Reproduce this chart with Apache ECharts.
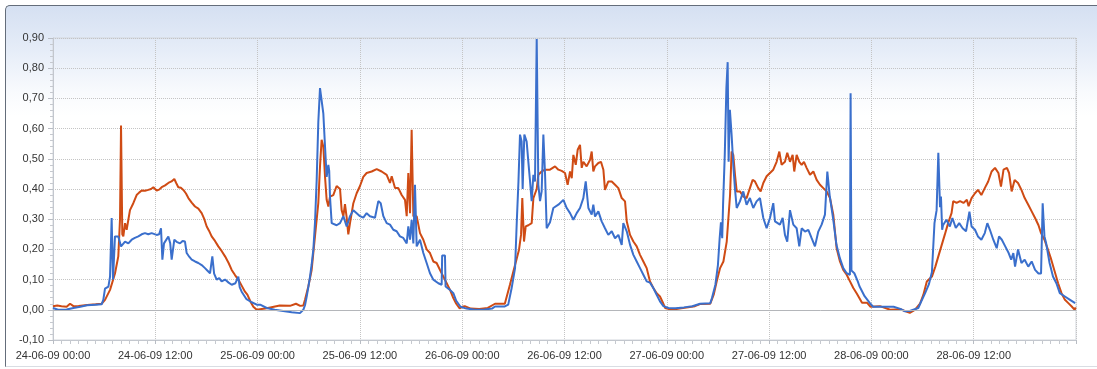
<!DOCTYPE html>
<html>
<head>
<meta charset="utf-8">
<title>Meetwaarden 24-06-09 t/m 28-06-09</title>
<script src="https://cdn.jsdelivr.net/npm/echarts@6/dist/echarts.min.js"></script>
<style>
  html, body { margin: 0; padding: 0; background: #ffffff; overflow: hidden; }
  #card {
    position: absolute; left: 5px; top: 5px; width: 1200px; height: 360px;
    border-top: 1px solid #646d7a; border-left: 1px solid #646d7a;
    border-bottom: 1px solid #d9dde3;
    border-top-left-radius: 5px;
    background: linear-gradient(to bottom, #d5e0f2 0px, #e6edf8 45px, #f8fafd 85px, #ffffff 110px);
  }
  #chart { position: absolute; left: 0; top: 0; width: 1097px; height: 369px; }
</style>
</head>
<body>
<div id="card"></div>
<div id="chart"></div>
<script>
// Date part of the x-axis tick labels, one per day
const dayLabels = ['24-06-09', '25-06-09', '26-06-09', '27-06-09', '28-06-09', '29-06-09'];

// Measured values per day: [hour of day, value]
const blue24 = [[0,0.006],[0.6,0.0],[1.6,0.001],[2.4,0.006],[3.2,0.01],[4.0,0.015],[5.0,0.017],[5.7,0.018],[5.9,0.033],[6.1,0.07],[6.5,0.077],[6.69,0.11],[6.88,0.304],[7.04,0.1],[7.27,0.243],[7.66,0.243],[7.98,0.21],[8.45,0.226],[8.84,0.22],[9.23,0.232],[9.6,0.238],[10.01,0.243],[10.4,0.25],[10.79,0.254],[11.18,0.25],[11.57,0.254],[12.16,0.248],[12.45,0.25],[12.67,0.27],[12.83,0.166],[13.02,0.22],[13.25,0.215],[13.53,0.243],[13.75,0.22],[13.92,0.166],[14.23,0.232],[14.5,0.225],[14.9,0.22],[15.2,0.228],[15.48,0.226],[15.68,0.188],[16.0,0.175],[16.27,0.166],[16.66,0.16],[17.05,0.155],[17.44,0.148],[17.83,0.138],[18.1,0.13],[18.42,0.121],[18.69,0.177],[18.9,0.12],[19.2,0.1],[19.5,0.105],[19.78,0.094],[20.18,0.1],[20.6,0.09],[20.96,0.083],[21.4,0.088],[21.74,0.11],[21.9,0.075],[22.13,0.06],[22.7,0.035],[23.3,0.025],[23.9,0.017]];
const blue25 = [[0.3,0.017],[1.07,0.006],[2.0,0.0],[3.0,-0.004],[4.0,-0.008],[4.97,-0.011],[5.36,0.0],[5.56,0.015],[5.76,0.044],[5.95,0.075],[6.15,0.11],[6.34,0.15],[6.54,0.2],[6.73,0.287],[6.93,0.43],[7.12,0.62],[7.32,0.734],[7.51,0.73],[7.71,0.65],[7.91,0.54],[8.1,0.44],[8.3,0.48],[8.4,0.46],[8.49,0.375],[8.69,0.287],[8.88,0.293],[9.27,0.28],[9.67,0.287],[10.06,0.31],[10.45,0.276],[10.84,0.31],[11.23,0.33],[11.62,0.32],[12.01,0.31],[12.4,0.305],[12.79,0.32],[13.18,0.31],[13.77,0.305],[14.16,0.36],[14.44,0.353],[14.75,0.31],[15.14,0.287],[15.53,0.282],[15.92,0.265],[16.31,0.26],[16.7,0.243],[17.09,0.238],[17.49,0.22],[17.68,0.276],[17.88,0.232],[18.07,0.298],[18.27,0.22],[18.46,0.414],[18.66,0.21],[19.05,0.232],[19.44,0.188],[19.83,0.155],[20.22,0.121],[20.61,0.1],[21.2,0.088],[21.59,0.083],[21.65,0.18],[21.98,0.18],[22.05,0.077],[22.57,0.066],[22.96,0.055],[23.3,0.03],[23.8,0.01]];
const blue26 = [[0,0.007],[0.5,0.004],[1.5,0.0],[2.5,0.0],[3.5,0.004],[3.85,0.011],[5.0,0.011],[5.4,0.017],[5.8,0.072],[6.2,0.138],[6.4,0.29],[6.6,0.425],[6.78,0.58],[6.97,0.557],[7.09,0.4],[7.29,0.58],[7.56,0.557],[7.76,0.49],[7.96,0.425],[8.15,0.36],[8.35,0.447],[8.54,0.425],[8.74,0.897],[8.93,0.414],[9.13,0.36],[9.32,0.392],[9.52,0.58],[9.72,0.447],[9.91,0.27],[10.3,0.29],[10.69,0.337],[11.28,0.348],[11.87,0.364],[12.26,0.337],[12.65,0.32],[13.04,0.298],[13.43,0.32],[13.82,0.337],[14.21,0.37],[14.49,0.425],[14.8,0.337],[15.19,0.315],[15.38,0.348],[15.58,0.309],[15.97,0.326],[16.36,0.293],[16.75,0.27],[17.14,0.248],[17.54,0.26],[17.93,0.237],[18.32,0.248],[18.71,0.215],[18.9,0.287],[19.3,0.26],[19.69,0.215],[20.08,0.182],[20.47,0.16],[20.86,0.138],[21.25,0.116],[21.64,0.094],[22.03,0.09],[22.42,0.072],[22.81,0.05],[23.2,0.028],[23.6,0.012]];
const blue27 = [[0.2,0.006],[1,0.005],[2,0.008],[3,0.012],[3.9,0.02],[5.1,0.022],[5.3,0.039],[5.7,0.083],[6.0,0.149],[6.2,0.237],[6.35,0.29],[6.5,0.237],[6.6,0.348],[6.8,0.513],[6.99,0.734],[7.14,0.82],[7.25,0.49],[7.4,0.662],[7.6,0.58],[7.8,0.48],[7.99,0.403],[8.2,0.337],[8.58,0.359],[8.97,0.392],[9.36,0.348],[9.75,0.37],[10.14,0.337],[10.53,0.359],[10.93,0.37],[11.12,0.337],[11.32,0.304],[11.71,0.27],[12.1,0.304],[12.49,0.353],[12.69,0.293],[12.88,0.298],[13.27,0.282],[13.59,0.304],[13.86,0.248],[14.13,0.226],[14.45,0.33],[14.84,0.282],[15.23,0.27],[15.54,0.21],[15.82,0.27],[16.21,0.259],[16.6,0.265],[16.99,0.237],[17.38,0.21],[17.77,0.259],[18.16,0.282],[18.55,0.315],[18.83,0.458],[19.1,0.38],[19.5,0.304],[19.9,0.215],[20.3,0.171],[20.7,0.138],[21.1,0.121],[21.48,0.116],[21.56,0.717],[21.66,0.13],[22.0,0.121],[22.4,0.094],[22.6,0.078],[23.2,0.045],[23.8,0.023]];
const blue28 = [[0.2,0.01],[1.4,0.01],[2.6,0.01],[3.4,0.003],[3.94,-0.005],[4.5,-0.004],[5.5,0.006],[5.8,0.025],[6.3,0.055],[6.75,0.085],[7.1,0.125],[7.4,0.287],[7.65,0.33],[7.85,0.52],[8.05,0.34],[8.16,0.375],[8.3,0.265],[8.4,0.28],[8.8,0.298],[9.2,0.276],[9.5,0.304],[9.9,0.271],[10.3,0.287],[10.7,0.27],[11.1,0.26],[11.5,0.325],[11.75,0.276],[12.15,0.265],[12.5,0.243],[12.9,0.232],[13.3,0.254],[13.6,0.287],[13.9,0.265],[14.3,0.232],[14.7,0.204],[14.97,0.243],[15.3,0.232],[15.7,0.21],[16.1,0.188],[16.4,0.166],[16.65,0.188],[16.85,0.143],[17.2,0.2],[17.6,0.155],[17.98,0.166],[18.4,0.143],[18.8,0.16],[19.2,0.132],[19.6,0.12],[19.9,0.12],[20.09,0.353],[20.3,0.243],[20.5,0.22],[20.9,0.155],[21.3,0.11],[21.7,0.088],[22.1,0.055],[22.7,0.044],[23.3,0.033],[23.9,0.022]];

const orange24 = [[0,0.012],[0.5,0.014],[1.0,0.012],[1.6,0.01],[2.0,0.02],[2.4,0.012],[3.0,0.013],[4.0,0.016],[5.0,0.018],[5.7,0.02],[6.1,0.033],[6.69,0.066],[7.27,0.12],[7.66,0.177],[7.86,0.3],[7.98,0.61],[8.13,0.25],[8.25,0.243],[8.45,0.287],[8.64,0.265],[9.03,0.33],[9.42,0.353],[9.81,0.38],[10.1,0.388],[10.4,0.395],[10.79,0.394],[11.18,0.397],[11.5,0.4],[11.77,0.406],[12.16,0.395],[12.45,0.398],[12.75,0.406],[13.15,0.412],[13.53,0.42],[13.9,0.425],[14.23,0.433],[14.45,0.42],[14.7,0.406],[15.0,0.404],[15.29,0.397],[15.6,0.385],[15.88,0.37],[16.27,0.355],[16.66,0.342],[17.05,0.335],[17.44,0.32],[17.75,0.3],[18.03,0.276],[18.3,0.262],[18.61,0.243],[19.0,0.228],[19.39,0.21],[19.78,0.195],[20.18,0.177],[20.6,0.155],[20.96,0.132],[21.35,0.115],[21.74,0.1],[22.13,0.08],[22.52,0.06],[22.8,0.05],[23.2,0.025],[23.5,0.01],[23.9,0.0]];
const orange25 = [[0.0,0.0],[1.07,0.005],[2.6,0.014],[3.8,0.013],[4.5,0.02],[5.0,0.013],[5.36,0.014],[5.56,0.033],[5.95,0.077],[6.34,0.132],[6.73,0.243],[7.12,0.353],[7.32,0.475],[7.51,0.563],[7.71,0.54],[7.91,0.44],[8.1,0.364],[8.3,0.342],[8.49,0.375],[8.88,0.38],[9.27,0.41],[9.67,0.4],[9.86,0.33],[10.06,0.31],[10.25,0.35],[10.45,0.305],[10.64,0.25],[10.84,0.287],[11.23,0.353],[11.62,0.386],[12.01,0.41],[12.4,0.44],[12.79,0.453],[13.38,0.458],[13.97,0.466],[14.55,0.458],[15.14,0.447],[15.53,0.42],[15.73,0.442],[16.12,0.403],[16.51,0.403],[16.9,0.38],[17.29,0.364],[17.49,0.31],[17.68,0.453],[17.88,0.32],[18.07,0.596],[18.27,0.31],[18.66,0.31],[19.05,0.254],[19.44,0.232],[19.83,0.2],[20.22,0.188],[20.61,0.16],[21.0,0.155],[21.4,0.132],[21.79,0.11],[22.18,0.088],[22.57,0.066],[22.96,0.039],[23.3,0.02],[23.7,0.005]];
const orange26 = [[0,0.01],[0.3,0.012],[0.5,0.012],[1,0.004],[2,0.003],[3,0.006],[3.85,0.02],[5.0,0.02],[5.2,0.017],[5.6,0.083],[6.0,0.127],[6.4,0.17],[6.67,0.2],[6.9,0.248],[7.05,0.37],[7.25,0.226],[7.45,0.276],[7.76,0.28],[8.15,0.287],[8.35,0.37],[8.54,0.37],[8.74,0.4],[8.93,0.447],[9.32,0.458],[9.72,0.464],[10.3,0.464],[10.89,0.475],[11.28,0.464],[11.67,0.46],[12.06,0.453],[12.37,0.414],[12.65,0.458],[12.85,0.436],[13.04,0.513],[13.32,0.48],[13.55,0.53],[13.82,0.546],[14.02,0.47],[14.21,0.49],[14.6,0.475],[15.0,0.497],[15.19,0.524],[15.38,0.458],[15.58,0.475],[15.97,0.486],[16.28,0.49],[16.56,0.464],[16.75,0.397],[17.14,0.425],[17.54,0.425],[17.93,0.414],[18.32,0.403],[18.71,0.37],[19.1,0.359],[19.3,0.293],[19.69,0.248],[20.08,0.226],[20.47,0.21],[20.86,0.182],[21.25,0.16],[21.64,0.138],[22.03,0.094],[22.42,0.072],[22.81,0.055],[23.2,0.044],[23.6,0.02],[23.8,0.006]];
const orange27 = [[0,0.005],[0.6,0.0],[1.5,0.004],[2.5,0.008],[3.3,0.012],[3.9,0.019],[5.1,0.02],[5.5,0.05],[5.85,0.094],[6.25,0.138],[6.64,0.16],[7.03,0.226],[7.42,0.38],[7.6,0.524],[7.8,0.513],[8.0,0.447],[8.2,0.392],[8.58,0.392],[8.97,0.375],[9.36,0.37],[9.75,0.403],[10.07,0.43],[10.34,0.425],[10.73,0.403],[11.01,0.392],[11.32,0.42],[11.71,0.442],[12.1,0.453],[12.49,0.464],[12.88,0.49],[13.2,0.524],[13.47,0.48],[13.86,0.49],[14.13,0.52],[14.45,0.49],[14.76,0.513],[14.95,0.458],[15.23,0.513],[15.54,0.49],[15.82,0.48],[16.09,0.49],[16.4,0.47],[16.8,0.447],[17.19,0.458],[17.58,0.43],[17.97,0.414],[18.36,0.403],[18.75,0.392],[19.14,0.37],[19.53,0.315],[19.92,0.204],[20.31,0.16],[20.7,0.132],[21.1,0.116],[21.49,0.094],[21.88,0.072],[22.3,0.053],[22.9,0.023],[23.5,0.023],[23.9,0.01]];
const orange28 = [[0.1,0.007],[1.0,0.012],[2.2,0.0],[3.4,0.002],[4.5,-0.01],[5.1,0.0],[5.7,0.02],[6.1,0.05],[6.5,0.094],[7.1,0.11],[7.5,0.143],[7.85,0.177],[8.2,0.21],[8.6,0.248],[9.0,0.287],[9.4,0.32],[9.6,0.36],[9.99,0.354],[10.4,0.36],[10.8,0.354],[11.2,0.364],[11.4,0.343],[11.75,0.37],[12.15,0.386],[12.5,0.397],[12.9,0.38],[13.3,0.403],[13.7,0.425],[14.1,0.458],[14.5,0.47],[14.9,0.453],[15.2,0.408],[15.5,0.464],[15.9,0.47],[16.15,0.453],[16.45,0.392],[16.8,0.43],[17.2,0.42],[17.6,0.397],[17.98,0.37],[18.4,0.348],[18.8,0.326],[19.2,0.304],[19.6,0.28],[19.9,0.254],[20.3,0.232],[20.7,0.2],[21.1,0.166],[21.5,0.127],[21.9,0.088],[22.3,0.055],[22.7,0.033],[23.1,0.022],[23.5,0.011],[23.85,0.0],[23.95,0.008]];

// Join the per-day readings into one series, hours counted from 24-06-09 00:00
function joinDays(days) {
  const out = [];
  days.forEach((day, k) => day.forEach(([h, v]) => out.push([h + 24 * k, v])));
  return out;
}

const blueSeries = joinDays([blue24, blue25, blue26, blue27, blue28]);
const orangeSeries = joinDays([orange24, orange25, orange26, orange27, orange28]);

const font = "'Liberation Sans', Arial, sans-serif";
const chart = echarts.init(document.getElementById('chart'), null, { renderer: 'canvas' });

chart.setOption({
  animation: false,
  backgroundColor: 'transparent',
  grid: {
    left: 53, right: 21, top: 38, bottom: 29,
    show: true, borderColor: '#d2d6dd', borderWidth: 1, backgroundColor: 'transparent'
  },
  xAxis: {
    type: 'value',
    min: 0, max: 120, interval: 12,
    axisLine: { show: true, onZero: false, lineStyle: { color: '#c3c7ce', width: 1 } },
    axisTick: { show: true, length: 4, lineStyle: { color: '#b9bdc4' } },
    minorTick: { show: true, splitNumber: 12, length: 4, lineStyle: { color: '#c6c9cf' } },
    splitLine: { show: true, lineStyle: { color: '#c4c4c4', type: 'dotted', width: 1 } },
    axisLabel: {
      color: '#333', fontSize: 11, fontFamily: font, margin: 10,
      showMaxLabel: false,
      formatter: v => dayLabels[Math.floor(v / 24)] + ' ' + String(v % 24).padStart(2, '0') + ':00'
    }
  },
  yAxis: {
    type: 'value',
    min: -0.1, max: 0.9, interval: 0.1,
    axisLine: { show: true, lineStyle: { color: '#c3c7ce', width: 1 } },
    axisTick: { show: true, length: 5, lineStyle: { color: '#b9bdc4' } },
    minorTick: { show: true, splitNumber: 5, length: 3, lineStyle: { color: '#c6c9cf' } },
    splitLine: { show: true, lineStyle: { color: '#c4c4c4', type: 'dotted', width: 1 } },
    axisLabel: {
      color: '#333', fontSize: 11, fontFamily: font, margin: 9,
      formatter: v => v.toFixed(2).replace('.', ',')
    }
  },
  series: [
    {
      name: 'Meting B',
      type: 'line',
      data: orangeSeries,
      showSymbol: false,
      lineStyle: { color: '#cf4b14', width: 2 },
      itemStyle: { color: '#cf4b14' },
      markLine: {
        silent: true, symbol: 'none', label: { show: false },
        lineStyle: { color: '#b4b6ba', type: 'solid', width: 1 },
        data: [{ yAxis: 0 }]
      }
    },
    {
      name: 'Meting A',
      type: 'line',
      data: blueSeries,
      showSymbol: false,
      lineStyle: { color: '#3a6fcc', width: 2 },
      itemStyle: { color: '#3a6fcc' }
    }
  ]
});
</script>
</body>
</html>
